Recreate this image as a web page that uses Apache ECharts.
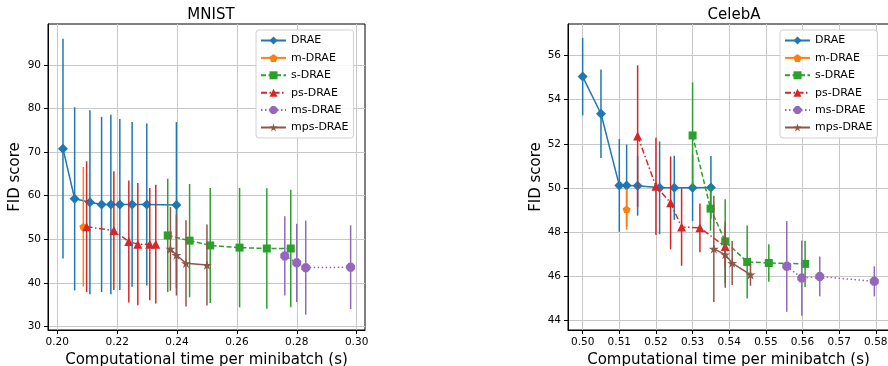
<!DOCTYPE html>
<html>
<head>
<meta charset="utf-8">
<script src="https://cdn.jsdelivr.net/npm/echarts@6/dist/echarts.min.js"></script>
<style>
  html, body { margin: 0; padding: 0; background: #fff; }
  #chart { width: 888px; height: 366px; }
</style>
</head>
<body>
<div id="chart"></div>
<script>
// series names and matplotlib tab10 colours
const seriesNames = ['DRAE', 'm-DRAE', 's-DRAE', 'ps-DRAE', 'ms-DRAE', 'mps-DRAE']
const seriesColors = ['#1f77b4', '#ff7f0e', '#2ca02c', '#d62728', '#9467bd', '#8c564b']

// MNIST (left panel): time per minibatch, FID mean, FID std
const mnistDraeX = [0.2019, 0.2058, 0.2109, 0.2148, 0.2179, 0.2209, 0.2250, 0.2299, 0.2398]
const mnistDraeY = [70.8, 59.3, 58.5, 58.0, 58.0, 58.0, 58.0, 58.0, 57.9]
const mnistDraeErr = [25.2, 21.0, 21.1, 20.1, 20.6, 19.6, 18.9, 18.6, 19.0]
const mnistMX = [0.2087]
const mnistMY = [52.9]
const mnistMErr = [13.7]
const mnistSX = [0.2369, 0.2442, 0.2511, 0.2609, 0.2700, 0.2780]
const mnistSY = [50.9, 49.7, 48.6, 48.1, 47.9, 47.9]
const mnistSErr = [13.0, 13.0, 13.2, 13.7, 13.8, 13.5]
const mnistPsX = [0.2098, 0.2189, 0.2239, 0.2269, 0.2309, 0.2329]
const mnistPsY = [52.9, 52.0, 49.5, 48.9, 48.9, 48.9]
const mnistPsErr = [15.0, 13.6, 14.0, 14.0, 12.9, 13.6]
const mnistMsX = [0.2760, 0.2800, 0.2830, 0.2980]
const mnistMsY = [46.2, 44.6, 43.5, 43.6]
const mnistMsErr = [9.1, 9.0, 10.8, 9.6]
const mnistMpsX = [0.2378, 0.2398, 0.2430, 0.2500]
const mnistMpsY = [47.8, 46.4, 44.5, 44.1]
const mnistMpsErr = [9.6, 9.3, 9.9, 9.3]

// CelebA (right panel)
const celebDraeX = [0.500, 0.505, 0.510, 0.512, 0.515, 0.521, 0.525, 0.530, 0.535]
const celebDraeY = [55.04, 53.36, 50.12, 50.12, 50.10, 50.01, 50.01, 50.01, 50.03]
const celebDraeErr = [1.75, 2.0, 2.1, 1.85, 1.35, 2.1, 1.45, 1.5, 1.42]
const celebMX = [0.512]
const celebMY = [49.04]
const celebMErr = [0.93]
const celebSX = [0.530, 0.5349, 0.5389, 0.5449, 0.5508, 0.5607]
const celebSY = [52.38, 49.07, 47.59, 46.66, 46.61, 46.57]
const celebSErr = [2.4, 1.0, 1.9, 1.65, 0.85, 1.05]
const celebPsX = [0.515, 0.520, 0.524, 0.527, 0.532, 0.5389]
const celebPsY = [52.35, 50.08, 49.33, 48.24, 48.2, 47.36]
const celebPsErr = [3.2, 2.2, 2.1, 1.75, 1.1, 0.9]
const celebMsX = [0.5557, 0.5598, 0.5647, 0.5796]
const celebMsY = [46.46, 45.93, 46.0, 45.78]
const celebMsErr = [2.05, 1.7, 0.9, 0.68]
const celebMpsX = [0.5358, 0.5389, 0.5408, 0.5458]
const celebMpsY = [47.25, 46.99, 46.61, 46.08]
const celebMpsErr = [2.4, 1.5, 1.0, 0.5]

// tick labels
const mnistXTicks = [0.20, 0.22, 0.24, 0.26, 0.28, 0.30]
const mnistYTicks = [30, 40, 50, 60, 70, 80, 90]
const celebXTicks = [0.50, 0.51, 0.52, 0.53, 0.54, 0.55, 0.56, 0.57, 0.58]
const celebYTicks = [44, 46, 48, 50, 52, 54, 56]

const FONT = 'DejaVu Sans'
const STAR = 'path://M50,0 L61.23,34.55 L97.55,34.55 L68.17,55.9 L79.39,90.45 L50,69.1 L20.61,90.45 L31.83,55.9 L2.45,34.55 L38.77,34.55 Z'
const PENTA = 'path://M50,0 L97.55,34.55 L79.39,90.45 L20.61,90.45 L2.45,34.55 Z'
const OCTA = 'path://M30.9,3.8 L69.1,3.8 L96.2,30.9 L96.2,69.1 L69.1,96.2 L30.9,96.2 L3.8,69.1 L3.8,30.9 Z'

// marker / line style per series
const seriesLook = {
  'DRAE': { symbol: 'diamond', size: 10, dash: 'solid' },
  'm-DRAE': { symbol: PENTA, size: 8, dash: 'solid' },
  's-DRAE': { symbol: 'rect', size: 8, dash: [5, 2.5] },
  'ps-DRAE': { symbol: 'triangle', size: 9, dash: [6, 2.5, 1.5, 2.5] },
  'ms-DRAE': { symbol: OCTA, size: 9, dash: [1.5, 2.5] },
  'mps-DRAE': { symbol: STAR, size: 10, dash: 'solid' }
}

const series = []

function addSeries(idx, xs, ys, errs, axis) {
  const name = seriesNames[idx]
  const color = seriesColors[idx]
  const look = seriesLook[name]
  // error bars
  series.push({
    type: 'custom',
    name: name + ' err',
    xAxisIndex: axis,
    yAxisIndex: axis,
    silent: true,
    z: 2 + idx * 2,
    data: xs.map((x, i) => [x, ys[i] - errs[i], ys[i] + errs[i]]),
    renderItem: (params, api) => {
      const a = api.coord([api.value(0), api.value(1)])
      const b = api.coord([api.value(0), api.value(2)])
      return {
        type: 'line',
        shape: { x1: a[0], y1: a[1], x2: b[0], y2: b[1] },
        style: { stroke: color, lineWidth: 1.5 }
      }
    }
  })
  // mean line with markers
  series.push({
    type: 'line',
    name: name,
    xAxisIndex: axis,
    yAxisIndex: axis,
    z: 3 + idx * 2,
    data: xs.map((x, i) => [x, ys[i]]),
    symbol: look.symbol,
    symbolSize: look.size,
    symbolKeepAspect: true,
    showSymbol: true,
    lineStyle: { color: color, width: 1.5, type: look.dash },
    itemStyle: { color: color, borderWidth: 0 }
  })
}

addSeries(0, mnistDraeX, mnistDraeY, mnistDraeErr, 0)
addSeries(1, mnistMX, mnistMY, mnistMErr, 0)
addSeries(2, mnistSX, mnistSY, mnistSErr, 0)
addSeries(3, mnistPsX, mnistPsY, mnistPsErr, 0)
addSeries(4, mnistMsX, mnistMsY, mnistMsErr, 0)
addSeries(5, mnistMpsX, mnistMpsY, mnistMpsErr, 0)

addSeries(0, celebDraeX, celebDraeY, celebDraeErr, 1)
addSeries(1, celebMX, celebMY, celebMErr, 1)
addSeries(2, celebSX, celebSY, celebSErr, 1)
addSeries(3, celebPsX, celebPsY, celebPsErr, 1)
addSeries(4, celebMsX, celebMsY, celebMsErr, 1)
addSeries(5, celebMpsX, celebMpsY, celebMpsErr, 1)

function xAxisCfg(grid, min, max, ticks) {
  return {
    type: 'value', gridIndex: grid, min: min, max: max,
    name: 'Computational time per minibatch (s)',
    nameLocation: 'middle', nameGap: 19,
    nameTextStyle: { fontFamily: FONT, fontSize: 15, color: '#000' },
    axisLine: { show: true, onZero: false, lineStyle: { color: '#000', width: 1 } },
    axisTick: { show: true, length: 4, customValues: ticks, lineStyle: { color: '#000' } },
    axisLabel: {
      customValues: ticks, margin: 7, fontFamily: FONT, fontSize: 10.5, color: '#000',
      formatter: v => v.toFixed(2)
    },
    splitLine: { show: true, lineStyle: { color: '#c8c8c8', width: 1 } }
  }
}

function yAxisCfg(grid, min, max, ticks, gap) {
  return {
    type: 'value', gridIndex: grid, min: min, max: max,
    name: 'FID score',
    nameLocation: 'middle', nameGap: gap, nameRotate: 90,
    nameTextStyle: { fontFamily: FONT, fontSize: 15, color: '#000' },
    axisLine: { show: true, onZero: false, lineStyle: { color: '#000', width: 1 } },
    axisTick: { show: true, length: 4, customValues: ticks, lineStyle: { color: '#000' } },
    axisLabel: { customValues: ticks, margin: 7, fontFamily: FONT, fontSize: 10.5, color: '#000' },
    splitLine: { show: true, lineStyle: { color: '#c8c8c8', width: 1 } }
  }
}

function legendCfg(left) {
  return {
    data: seriesNames,
    orient: 'vertical',
    left: left, top: 30,
    z: 100,
    padding: [4, 5, 4, 4],
    itemGap: 4.4,
    itemWidth: 25, itemHeight: 10,
    backgroundColor: 'rgba(255,255,255,0.85)',
    borderColor: '#d0d0d0', borderWidth: 1, borderRadius: 3,
    textStyle: { fontFamily: FONT, fontSize: 11, color: '#000', lineHeight: 13 }
  }
}

const chart = echarts.init(document.getElementById('chart'), null, { renderer: 'canvas' })
chart.setOption({
  animation: false,
  backgroundColor: '#fff',
  title: [
    { text: 'MNIST', left: 206, top: 3, textAlign: 'center',
      textStyle: { fontFamily: FONT, fontSize: 15, fontWeight: 'normal', color: '#000' } },
    { text: 'CelebA', left: 729, top: 3, textAlign: 'center',
      textStyle: { fontFamily: FONT, fontSize: 15, fontWeight: 'normal', color: '#000' } }
  ],
  grid: [
    { left: 48, top: 24, width: 317, height: 306, outerBoundsMode: 'none', containLabel: false,
      show: true, borderColor: '#000', borderWidth: 1 },
    { left: 568, top: 24, width: 321, height: 306, outerBoundsMode: 'none', containLabel: false,
      show: true, borderColor: '#000', borderWidth: 1 }
  ],
  xAxis: [
    xAxisCfg(0, 0.1969, 0.3028, mnistXTicks),
    xAxisCfg(1, 0.4960, 0.5836, celebXTicks)
  ],
  yAxis: [
    yAxisCfg(0, 29.2, 99.4, mnistYTicks, 25),
    yAxisCfg(1, 43.58, 57.42, celebYTicks, 24)
  ],
  legend: [legendCfg(256), legendCfg(780)],
  series: series
})
</script>
</body>
</html>
